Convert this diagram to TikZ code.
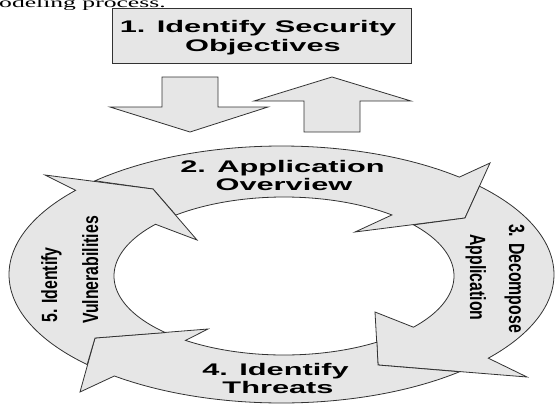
\documentclass[tikz,border=0pt]{standalone}
\usepackage{fontspec}
\setmainfont{Liberation Serif}
\setsansfont{Liberation Sans}
\definecolor{ringfill}{RGB}{230,230,230}
\definecolor{edge}{RGB}{50,50,50}
% arcs of the outer and inner ellipse of the ring, from angle #1 to angle #2
\newcommand\ringout[2]{plot[domain=0:1,samples=70,variable=\pp]({281.5+272.5*cos(#1+(#2-(#1))*\pp)},{274.5+128.5*sin(#1+(#2-(#1))*\pp)})}
\newcommand\ringin[2]{-- plot[domain=0:1,samples=70,variable=\pp]({284+170*cos(#1+(#2-(#1))*\pp)},{276+79*sin(#1+(#2-(#1))*\pp)})}
\begin{document}
\begin{tikzpicture}[x=1pt,y=-1pt,
  grayshape/.style={fill=ringfill,draw=edge,line width=0.8pt,line join=miter},
  hlabel/.style={font=\sffamily\bfseries\fontsize{16.8}{19}\selectfont,inner sep=0pt,anchor=base},
  vlabel/.style={font=\sffamily\bfseries\fontsize{22}{24}\selectfont,inner sep=0pt}]
\useasboundingbox (0,0) rectangle (555,405);

% caption line above the figure
\node[font=\rmfamily\fontsize{14}{16}\selectfont,inner sep=0pt,anchor=base west] (cap) at (-1,7) {\scalebox{1.83}[1]{odeling process.}};

% step 1 box
\draw[grayshape] (112,8) rectangle (411,63);
\node[hlabel] (s1a) at (258,32) {\scalebox{1.83}[1]{1. Identify Security}};
\node[hlabel] (s1b) at (263,51) {\scalebox{1.83}[1]{Objectives}};

% block arrows between step 1 and the cycle
\draw[grayshape] (162,77) -- (218,77) -- (218,107) -- (268,107) -- (190,132) -- (110,107) -- (162,107) -- cycle;
\draw[grayshape] (332,77) -- (411,101) -- (360,101) -- (360,132) -- (304,132) -- (304,101) -- (254,101) -- cycle;

% cycle: four curved arrows
\draw[grayshape] \ringout{226.8}{310.8} -- (490,163) -- (465,218) -- (355,232) \ringin{309.4}{230.4} -- (153,189) -- cycle;
\draw[grayshape] \ringout{316.6}{400.7} -- (527,377) -- (378,365) -- (375,312) \ringin{400.4}{319.6} -- (465,218) -- cycle;
\draw[grayshape] \ringout{49.2}{127.9} -- (80,392) -- (95,338) -- (208,329) \ringin{125.4}{56.8} -- (378,365) -- cycle;
\draw[grayshape] \ringout{135.5}{221} -- (45,175) -- (153,189) -- (197,240) \ringin{220.9}{134.2} -- (95,338) -- cycle;

% step labels
\node[hlabel] (s2a) at (282.5,172) {\scalebox{1.83}[1]{2. Application}};
\node[hlabel] (s2b) at (284,190) {\scalebox{1.83}[1]{Overview}};
\node[vlabel,rotate=-90,anchor=base] (s3a) at (509,278.5) {\scalebox{0.72}[1]{3. Decompose}};
\node[vlabel,rotate=-90,anchor=base] (s3b) at (470,277.5) {\scalebox{0.72}[1]{Application}};
\node[hlabel] (s4a) at (275.5,375) {\scalebox{1.83}[1]{4. Identify}};
\node[hlabel] (s4b) at (278,393) {\scalebox{1.83}[1]{Threats}};
\node[vlabel,rotate=90,anchor=base west] (s5a) at (57,323) {\scalebox{0.72}[1]{5. Identify}};
\node[vlabel,rotate=90,anchor=base west] (s5b) at (98,324) {\scalebox{0.72}[1]{Vulnerabilities}};
\end{tikzpicture}
\end{document}
